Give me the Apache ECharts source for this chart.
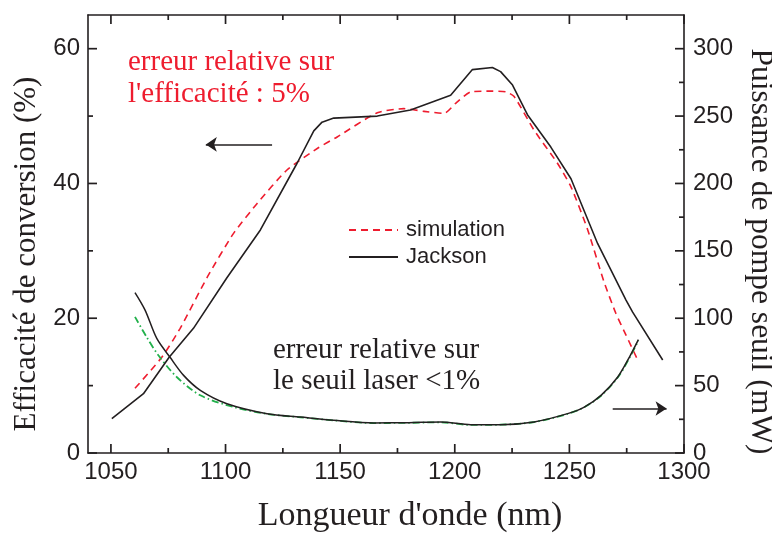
<!DOCTYPE html>
<html>
<head>
<meta charset="utf-8">
<script src="https://cdn.jsdelivr.net/npm/echarts@6/dist/echarts.min.js"></script>
<style>
html,body{margin:0;padding:0;background:#fff;}
#chart{width:772px;height:533px;}
</style>
</head>
<body>
<div id="chart"></div>
<script>
// ---- data ----
const xTickLabels = [1050, 1100, 1150, 1200, 1250, 1300];
const xMinorTicks = [1075, 1125, 1175, 1225, 1275];
const leftTickLabels = [0, 20, 40, 60];
const leftMinorTicks = [10, 30, 50];
const rightTickLabels = [0, 50, 100, 150, 200, 250, 300];
const rightMinorTicks = [25, 75, 125, 175, 225, 275];

const wavelengthSimEff = [1060.5,1072.2,1080.2,1092.2,1103.5,1113.7,1126.8,1140.5,1148.7,1166.2,1177.8,1186.6,1195.4,1200.4,1207,1215.7,1222.3,1225.9,1234.6,1244.8,1250.7,1258,1265,1270.3,1274.7,1279.8];
const simEfficiency = [9.6,14.2,18.5,26.2,32.6,37.0,42.0,45.3,46.9,50.5,51.1,50.7,50.4,51.9,53.6,53.7,53.6,52.9,47.9,43.0,39.5,33.1,25.5,20.7,17.5,13.8];

const wavelengthJacksonEff = [1050.4,1064.2,1075.4,1086,1100.6,1115.2,1131.2,1138.5,1142.1,1147.2,1166.2,1180.7,1198.2,1207.7,1216.4,1220,1225.2,1231.7,1241.9,1250.7,1262.3,1274.7,1277.6,1290.7];
const jacksonEfficiency = [5.1,8.8,14.2,18.5,26.0,33.1,43.0,47.8,49.1,49.7,50.0,50.9,53.1,56.9,57.2,56.6,54.6,50.2,45.4,40.7,31.1,22.7,20.9,13.8];

const wavelengthSimThr = [1060.5,1065.6,1070.7,1078.7,1089,1103.5,1118.1,1132.7,1147.2,1164.7,1180,1193.9,1207,1220,1234.6,1249.2,1256.5,1263.8,1271.1,1276.2,1280.1];
const simThreshold = [101,86,72.5,56.4,42.8,34.1,29.0,26.5,24.2,22.2,22.4,22.8,20.8,21.0,23.0,29.0,34.0,42.5,56.0,70.5,83.5];

const wavelengthJacksonThr = [1060.5,1064.9,1070,1075.8,1081.7,1089,1100.6,1118.1,1132.7,1147.2,1164.7,1180,1193.9,1207,1220,1234.6,1249.2,1256.5,1263.8,1271.1,1276.2,1280.1];
const jacksonThreshold = [119,106,85,71,57.6,46.5,36.6,29.2,26.7,24.3,22.3,22.5,23.0,21.0,21.0,23.0,29.2,34.1,42.8,56.4,71.2,84.1];

const zip = (xs, ys) => xs.map((x, i) => [x, ys[i]]);

// ---- axis ranges ----
const X_MIN = 1040, X_MAX = 1300;
const L_MAX = 65, R_MAX = 325;

// ---- styles ----
const INK = '#231f20';
const RED = '#ee1c2e';
const GREEN = '#22b04b';
const SANS = '"Liberation Sans", Arial, sans-serif';
const SERIF = '"Liberation Serif", "Times New Roman", serif';
const axisLineStyle = { color: INK, width: 1.6 };
const MAJOR_LEN = 9, MINOR_LEN = 5;

function valueAxis(pos, min, max, labels, margin, extra) {
  return Object.assign({
    type: 'value', position: pos, min: min, max: max,
    axisLine: { show: true, onZero: false, lineStyle: axisLineStyle },
    axisTick: { show: false },
    axisLabel: labels ? {
      show: true, customValues: labels, fontFamily: SANS, fontSize: 24, color: INK, margin: margin,
      formatter: v => String(v)
    } : { show: false },
    splitLine: { show: false }
  }, extra || {});
}

// inward tick marks, positioned through the axes' own scales
function tickSeries(values, yAxisIndex, len, side) {
  const yEdge = yAxisIndex === 0 ? L_MAX : R_MAX;
  return {
    type: 'custom', xAxisIndex: 0, yAxisIndex: yAxisIndex, silent: true, clip: false, z: 10,
    data: values.map(v =>
      side === 'bottom' ? [v, 0] : side === 'top' ? [v, yEdge] :
      side === 'left' ? [X_MIN, v] : [X_MAX, v]),
    renderItem: function (params, api) {
      const p = api.coord([api.value(0), api.value(1)]);
      const st = { stroke: INK, lineWidth: 1.7 };
      let dx = 0, dy = 0;
      if (side === 'bottom') dy = -len;
      else if (side === 'top') dy = len;
      else if (side === 'left') dx = len;
      else dx = -len;
      return { type: 'line', shape: { x1: p[0], y1: p[1], x2: p[0] + dx, y2: p[1] + dy }, style: st };
    }
  };
}

const chart = echarts.init(document.getElementById('chart'), null, { renderer: 'canvas' });
chart.setOption({
  animation: false,
  backgroundColor: '#fff',
  grid: { left: 88, right: 88, top: 15, bottom: 80, containLabel: false, outerBoundsMode: 'none' },
  legend: {
    data: ['simulation', 'Jackson'],
    orient: 'vertical', left: 348, top: 219, padding: 0,
    itemWidth: 49, itemHeight: 22, itemGap: 5,
    itemStyle: { opacity: 0 },
    textStyle: { fontFamily: SANS, fontSize: 22, color: INK, lineHeight: 22, padding: [0, 0, 0, 3] },
    selectedMode: false
  },
  xAxis: [
    valueAxis('bottom', X_MIN, X_MAX, xTickLabels, 7, {
      name: "Longueur d'onde (nm)", nameLocation: 'middle', nameGap: 46,
      nameTextStyle: { fontFamily: SERIF, fontSize: 34, color: INK, padding: [0, 0, 0, 48] }
    }),
    valueAxis('top', X_MIN, X_MAX, null, 0)
  ],
  yAxis: [
    valueAxis('left', 0, L_MAX, leftTickLabels, 8, {
      name: 'Efficacité de conversion (%)', nameLocation: 'middle', nameGap: 40,
      nameTextStyle: { fontFamily: SERIF, fontSize: 31, color: INK, padding: [0, 40, 0, 0] }
    }),
    valueAxis('right', 0, R_MAX, rightTickLabels, 9, {
      name: 'Puissance de pompe seuil (mW)', nameLocation: 'middle', nameGap: 54, nameRotate: -90,
      nameTextStyle: { fontFamily: SERIF, fontSize: 31.5, color: INK, padding: [0, 0, 0, 35] }
    })
  ],
  series: [
    {
      name: 'simulation', type: 'line', xAxisIndex: 0, yAxisIndex: 0,
      data: zip(wavelengthSimEff, simEfficiency), symbol: 'none', smooth: 0.2,
      lineStyle: { color: RED, width: 1.6, type: [7, 5] }, itemStyle: { color: RED },
      silent: true, z: 3
    },
    {
      name: 'Jackson', type: 'line', xAxisIndex: 0, yAxisIndex: 0,
      data: zip(wavelengthJacksonEff, jacksonEfficiency), symbol: 'none',
      lineStyle: { color: INK, width: 1.6 }, itemStyle: { color: INK },
      silent: true, z: 4,
      markLine: {
        silent: true, symbol: ['none', 'arrow'], symbolSize: 11,
        label: { show: false }, emphasis: { disabled: true },
        lineStyle: { color: INK, width: 1.5, type: 'solid' },
        itemStyle: { color: INK },
        data: [
          [{ coord: [1120.3, 45.8] }, { coord: [1091.4, 45.8] }],
          [{ coord: [1268.9, 6.6] }, { coord: [1292.4, 6.6] }]
        ]
      }
    },
    {
      name: 'simulation seuil', type: 'line', xAxisIndex: 0, yAxisIndex: 1,
      data: zip(wavelengthSimThr, simThreshold), symbol: 'none', smooth: 0.3,
      lineStyle: { color: GREEN, width: 1.8, type: [7, 3, 1.5, 3] },
      silent: true, z: 3
    },
    {
      name: 'Jackson seuil', type: 'line', xAxisIndex: 0, yAxisIndex: 1,
      data: zip(wavelengthJacksonThr, jacksonThreshold), symbol: 'none', smooth: 0.3,
      lineStyle: { color: INK, width: 1.5 },
      silent: true, z: 4
    },
    tickSeries(xTickLabels, 0, MAJOR_LEN, 'bottom'),
    tickSeries(xMinorTicks, 0, MINOR_LEN, 'bottom'),
    tickSeries(xTickLabels, 0, MAJOR_LEN, 'top'),
    tickSeries(xMinorTicks, 0, MINOR_LEN, 'top'),
    tickSeries(leftTickLabels, 0, MAJOR_LEN, 'left'),
    tickSeries(leftMinorTicks, 0, MINOR_LEN, 'left'),
    tickSeries(rightTickLabels, 1, MAJOR_LEN, 'right'),
    tickSeries(rightMinorTicks, 1, MINOR_LEN, 'right')
  ],
  graphic: [
    {
      type: 'text', left: 128, top: 46, silent: true,
      style: { text: "erreur relative sur\nl'efficacité : 5%", font: '29px ' + SERIF, fill: RED, lineHeight: 32 }
    },
    {
      type: 'text', left: 273, top: 335, silent: true,
      style: { text: 'erreur relative sur\nle seuil laser <1%', font: '29px ' + SERIF, fill: INK, lineHeight: 31 }
    }
  ]
});
</script>
</body>
</html>
